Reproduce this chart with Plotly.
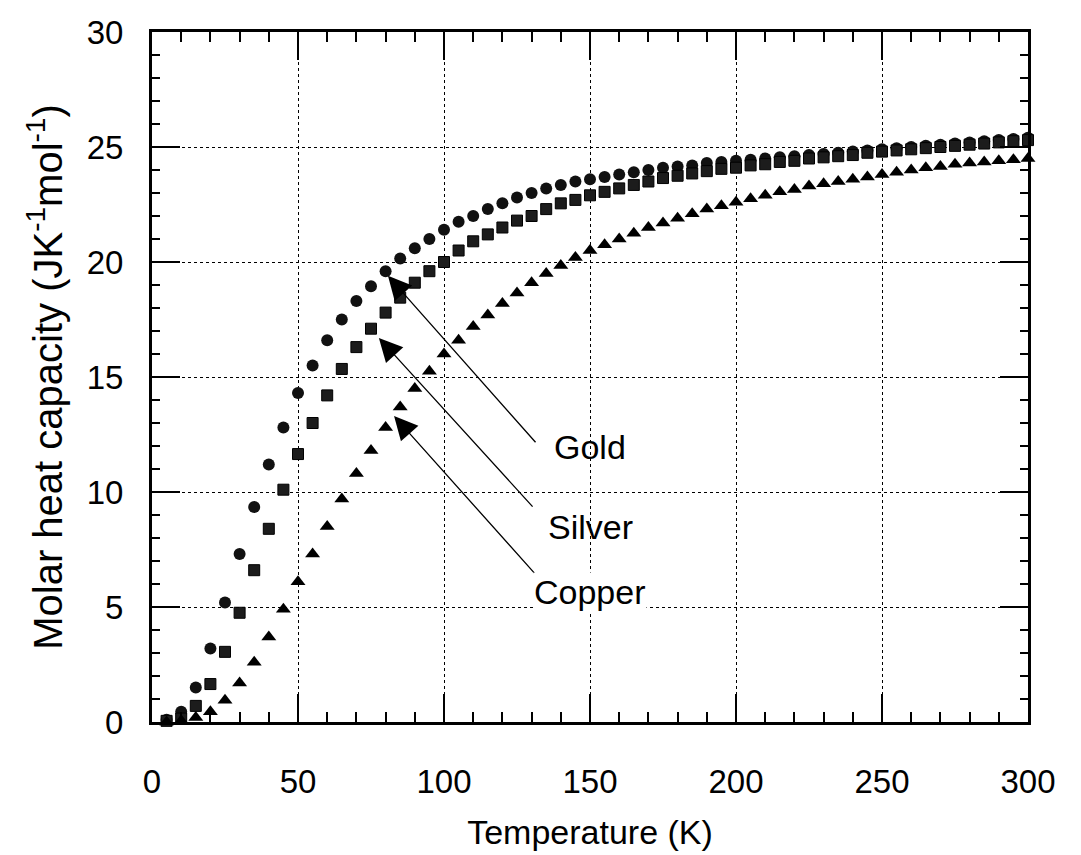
import plotly.graph_objects as go

# Temperature (K)
temperature = list(range(5, 305, 5))

# Molar heat capacity (J K^-1 mol^-1)
gold = [0.1, 0.45, 1.5, 3.2, 5.2, 7.3, 9.35, 11.2, 12.8, 14.3,
        15.5, 16.6, 17.5, 18.3, 18.95, 19.6, 20.15, 20.6, 21.0, 21.4,
        21.75, 22.0, 22.3, 22.55, 22.8, 23.0, 23.2, 23.35, 23.5, 23.6,
        23.7, 23.8, 23.9, 24.0, 24.1, 24.15, 24.2, 24.3, 24.35, 24.4,
        24.45, 24.5, 24.55, 24.6, 24.65, 24.7, 24.75, 24.8, 24.85, 24.9,
        24.95, 25.0, 25.05, 25.1, 25.15, 25.2, 25.25, 25.3, 25.35, 25.4]

silver = [0.05, 0.15, 0.7, 1.65, 3.05, 4.75, 6.6, 8.4, 10.1, 11.65,
          13.0, 14.2, 15.35, 16.3, 17.1, 17.8, 18.45, 19.1, 19.6, 20.0,
          20.5, 20.9, 21.2, 21.5, 21.8, 22.0, 22.3, 22.55, 22.7, 22.9,
          23.05, 23.2, 23.35, 23.5, 23.65, 23.75, 23.85, 23.95, 24.05, 24.1,
          24.2, 24.25, 24.35, 24.4, 24.5, 24.55, 24.6, 24.65, 24.75, 24.8,
          24.85, 24.9, 24.95, 25.0, 25.05, 25.1, 25.15, 25.2, 25.25, 25.3]

copper = [0.0, 0.05, 0.2, 0.45, 0.95, 1.7, 2.6, 3.7, 4.9, 6.1,
          7.3, 8.5, 9.7, 10.8, 11.8, 12.8, 13.7, 14.5, 15.25, 16.0,
          16.6, 17.2, 17.7, 18.2, 18.65, 19.1, 19.5, 19.85, 20.2, 20.5,
          20.75, 21.0, 21.25, 21.5, 21.7, 21.9, 22.1, 22.3, 22.45, 22.6,
          22.75, 22.9, 23.05, 23.15, 23.3, 23.4, 23.5, 23.6, 23.7, 23.8,
          23.9, 24.0, 24.1, 24.15, 24.25, 24.3, 24.35, 24.4, 24.45, 24.5]

# Labels and arrows
labels = ["Gold", "Silver", "Copper"]
label_x = [150, 150, 150]
label_y = [11.95, 8.5, 5.65]
tail_x = [131.8, 130.8, 132.2]
tail_y = [12.1, 9.3, 6.3]
tip_x = [80.8, 77.7, 82.9]
tip_y = [19.4, 16.7, 13.3]

FONT = "Liberation Sans, Arial, Helvetica, sans-serif"

fig = go.Figure()
fig.add_trace(go.Scatter(x=temperature, y=gold, mode="markers", name="Gold",
                         marker=dict(symbol="circle", size=12, color="#111111"),
                         cliponaxis=False))
fig.add_trace(go.Scatter(x=temperature, y=silver, mode="markers", name="Silver",
                         marker=dict(symbol="square", size=11, color="#1c1c1c",
                                     line=dict(color="#000000", width=1)),
                         cliponaxis=False))
fig.add_trace(go.Scatter(x=temperature, y=copper, mode="markers", name="Copper",
                         marker=dict(symbol="triangle-up", size=13, color="#000000"),
                         cliponaxis=False))

for i, name in enumerate(labels):
    fig.add_annotation(x=tip_x[i], y=tip_y[i], ax=tail_x[i], ay=tail_y[i],
                       xref="x", yref="y", axref="x", ayref="y", text="",
                       showarrow=True, arrowhead=2, arrowsize=3.6, arrowwidth=1.3,
                       arrowcolor="black")
    fig.add_annotation(x=label_x[i], y=label_y[i], xref="x", yref="y", text=name,
                       showarrow=False, font=dict(family=FONT, size=34, color="black"),
                       bgcolor="white" if name == "Copper" else "rgba(0,0,0,0)",
                       borderpad=0)

axis_common = dict(
    showline=True, linecolor="black", linewidth=3, mirror="ticks",
    ticks="inside", ticklen=28, tickwidth=1.5, tickcolor="black",
    showgrid=True, gridcolor="black", gridwidth=1.2, griddash="dot",
    zeroline=False, automargin=False,
    tickfont=dict(family=FONT, size=33, color="black"),
)

fig.update_xaxes(range=[0, 300], dtick=50, tick0=0,
                 minor=dict(dtick=10, ticks="inside", ticklen=10, tickwidth=1.5,
                            tickcolor="black", showgrid=False),
                 title=dict(text="Temperature (K)", standoff=22,
                            font=dict(family=FONT, size=34, color="black")),
                 ticklabelstandoff=28,
                 **axis_common)
fig.update_yaxes(range=[0, 30], dtick=5, tick0=0,
                 minor=dict(dtick=1, ticks="inside", ticklen=8, tickwidth=1.5,
                            tickcolor="black", showgrid=False),
                 title=dict(text="Molar heat capacity (JK<sup>-1</sup>mol<sup>-1</sup>)",
                            standoff=12,
                            font=dict(family=FONT, size=40, color="black")),
                 ticklabelstandoff=19,
                 **axis_common)

fig.update_layout(
    width=1081, height=855,
    margin=dict(l=152, r=53, t=32, b=133),
    paper_bgcolor="white", plot_bgcolor="white",
    showlegend=False,
    font=dict(family=FONT, color="black"),
)

fig.write_html("out.html")
